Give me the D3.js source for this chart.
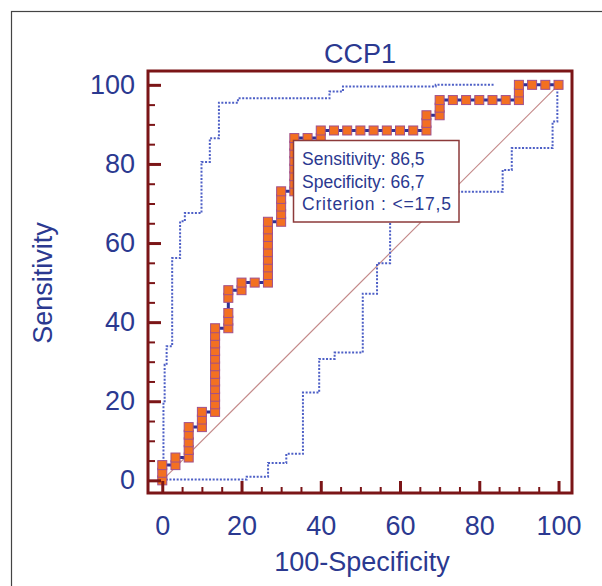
<!DOCTYPE html>
<html><head><meta charset="utf-8">
<script src="https://cdn.jsdelivr.net/npm/d3@7"></script>
<style>html,body{margin:0;padding:0;background:#fff;overflow:hidden}svg{display:block}</style>
</head><body>
<svg id="c" width="602" height="586"></svg>
<script>
// ---------- data ----------
const chartTitle = "CCP1";
const xTitle = "100-Specificity";
const yTitle = "Sensitivity";
const majorTicks = [0, 20, 40, 60, 80, 100];
const minorTicks = [5, 10, 15, 25, 30, 35, 45, 50, 55, 65, 70, 75, 85, 90, 95];

// ROC curve points (100-Specificity, Sensitivity)
const rocFpr = [
  0, 0, 0,
  3.33, 3.33,
  6.67, 6.67, 6.67, 6.67, 6.67,
  10, 10, 10,
  13.33, 13.33, 13.33, 13.33, 13.33, 13.33, 13.33, 13.33, 13.33, 13.33, 13.33, 13.33,
  16.67, 16.67, 16.67, 16.67, 16.67,
  20, 20,
  23.33,
  26.67, 26.67, 26.67, 26.67, 26.67, 26.67, 26.67, 26.67, 26.67,
  30, 30, 30, 30, 30,
  33.33, 33.33, 33.33, 33.33, 33.33, 33.33, 33.33, 33.33,
  36.67,
  40, 40,
  43.33, 46.67, 50, 53.33, 56.67, 60, 63.33,
  66.67, 66.67, 66.67,
  70, 70, 70,
  73.33, 76.67, 80, 83.33, 86.67,
  90, 90, 90,
  93.33, 96.67, 100
];
const rocSens = [
  0, 1.92, 3.85,
  3.85, 5.77,
  5.77, 7.69, 9.62, 11.54, 13.46,
  13.46, 15.38, 17.31,
  17.31, 19.23, 21.15, 23.08, 25.00, 26.92, 28.85, 30.77, 32.69, 34.62, 36.54, 38.46,
  38.46, 40.38, 42.31, 46.15, 48.08,
  48.08, 50.00,
  50.00,
  50.00, 51.92, 53.85, 55.77, 57.69, 59.62, 61.54, 63.46, 65.38,
  65.38, 67.31, 69.23, 71.15, 73.08,
  73.08, 75.00, 76.92, 78.85, 80.77, 82.69, 84.62, 86.54,
  86.54,
  86.54, 88.46,
  88.46, 88.46, 88.46, 88.46, 88.46, 88.46, 88.46,
  88.46, 90.38, 92.31,
  92.31, 94.23, 96.15,
  96.15, 96.15, 96.15, 96.15, 96.15,
  96.15, 98.08, 100,
  100, 100, 100
];

// 95% confidence bounds (step lines)
const upperFpr  = [0.3, 0.6, 1.1, 2.5, 4.5, 5.7, 9.9, 12.0, 14.3, 19.1, 42.2, 45.6, 69.0, 83.8];
const upperSens = [0, 20.0, 29.2, 33.9, 56.2, 65.5, 67.6, 80.5, 86.5, 95.5, 96.6, 98.3, 99.6, 100];
const lowerFpr  = [0, 21.3, 26.7, 31.3, 35.5, 39.6, 43.5, 50.6, 54.2, 57.5, 85.9, 88.2, 98.5, 99.7];
const lowerSens = [0.2, 0.9, 4.4, 6.7, 22.2, 30.7, 32.3, 47.2, 54.9, 73.0, 78.5, 84.0, 90.7, 100];

const infoLines = ["Sensitivity: 86,5", "Specificity: 66,7", "Criterion : <=17,5"];

// ---------- drawing ----------
const FONT = "'Liberation Sans', Arial, sans-serif";
const TXT = "#2b3990";
const MAROON = "#7b1517";
const svg = d3.select("#c");
const L = 148, T = 71, R = 572, B = 493;

const x = d3.scaleLinear().domain([-3.6, 103.4]).range([L, R]);
const y = d3.scaleLinear().domain([-3.2, 103.5]).range([B, T]);

svg.append("rect").attr("x", 0).attr("y", 0).attr("width", 602).attr("height", 586).attr("fill", "#fff");
// outer frame
svg.append("rect").attr("x", 11.5).attr("y", 11.5).attr("width", 700).attr("height", 700)
  .attr("fill", "none").attr("stroke", "#444").attr("stroke-width", 1.2);

// title
svg.append("text").attr("x", 360).attr("y", 63).attr("text-anchor", "middle")
  .attr("font-family", FONT).attr("font-size", 27).attr("fill", TXT).text(chartTitle);

// diagonal
svg.append("line").attr("x1", x(0)).attr("y1", y(0)).attr("x2", x(100)).attr("y2", y(100))
  .attr("stroke", "#c48a8a").attr("stroke-width", 1.2);

// confidence bounds
const upperPts = upperFpr.map((v, i) => [v, upperSens[i]]);
const lowerPts = lowerFpr.map((v, i) => [v, lowerSens[i]]);
svg.append("path").attr("d", d3.line().x(d => x(d[0])).y(d => y(d[1])).curve(d3.curveStepBefore)(upperPts))
  .attr("fill", "none").attr("stroke", "#4d5fc6").attr("stroke-width", 2).attr("stroke-dasharray", "2,1.6");
svg.append("path").attr("d", d3.line().x(d => x(d[0])).y(d => y(d[1])).curve(d3.curveStepAfter)(lowerPts))
  .attr("fill", "none").attr("stroke", "#4d5fc6").attr("stroke-width", 2).attr("stroke-dasharray", "2,1.6");

// ROC curve
const rocPts = rocFpr.map((v, i) => [v, rocSens[i]]);
svg.append("path").attr("d", d3.line().x(d => x(d[0])).y(d => y(d[1]))(rocPts))
  .attr("fill", "none").attr("stroke", "#2e3192").attr("stroke-width", 3);
const S = 9;
svg.append("g").selectAll("rect").data(rocPts).join("rect")
  .attr("x", d => x(d[0]) - S / 2).attr("y", d => y(d[1]) - S / 2)
  .attr("width", S).attr("height", S)
  .attr("fill", "#f37021").attr("stroke", "#a0508c").attr("stroke-width", 1);

// info box
const box = svg.append("g");
box.append("rect").attr("x", 293.5).attr("y", 140.5).attr("width", 165.5).attr("height", 81.5)
  .attr("fill", "#fff").attr("stroke", "#8c3a3a").attr("stroke-width", 1.5);
box.selectAll("text").data(infoLines).join("text")
  .attr("x", 302).attr("y", (d, i) => 165 + i * 22.5)
  .attr("font-family", FONT).attr("font-size", 17.5).attr("fill", TXT).text(d => d)
  .each(function (d, i) {
    if (i === 2) d3.select(this).attr("textLength", 149).attr("lengthAdjust", "spacing");
  });

// axes (ticks inward)
function styleAxis(g, w) {
  g.select(".domain").remove();
  g.selectAll(".tick line").attr("stroke", MAROON).attr("stroke-width", w);
  g.selectAll(".tick text").attr("font-family", FONT).attr("font-size", 27).attr("fill", TXT);
}
svg.append("g").attr("transform", `translate(0,${B})`)
  .call(d3.axisBottom(x).tickValues(minorTicks).tickSize(-6).tickFormat(""))
  .call(g => styleAxis(g, 2));
svg.append("g").attr("transform", `translate(0,${B})`)
  .call(d3.axisBottom(x).tickValues(majorTicks).tickSize(-12).tickPadding(23))
  .call(g => styleAxis(g, 3));
svg.append("g").attr("transform", `translate(${L},0)`)
  .call(d3.axisLeft(y).tickValues(minorTicks).tickSize(-7).tickFormat(""))
  .call(g => styleAxis(g, 2));
svg.append("g").attr("transform", `translate(${L},0)`)
  .call(d3.axisLeft(y).tickValues(majorTicks).tickSize(-13).tickPadding(13))
  .call(g => styleAxis(g, 3));

// plot frame
svg.append("rect").attr("x", L).attr("y", T).attr("width", R - L).attr("height", B - T)
  .attr("fill", "none").attr("stroke", MAROON).attr("stroke-width", 3);

// axis titles
svg.append("text").attr("x", 362).attr("y", 571).attr("text-anchor", "middle")
  .attr("font-family", FONT).attr("font-size", 27).attr("fill", TXT).text(xTitle);
svg.append("text").attr("transform", "translate(52,283) rotate(-90)").attr("text-anchor", "middle")
  .attr("font-family", FONT).attr("font-size", 27).attr("fill", TXT).text(yTitle);
</script>
</body></html>
